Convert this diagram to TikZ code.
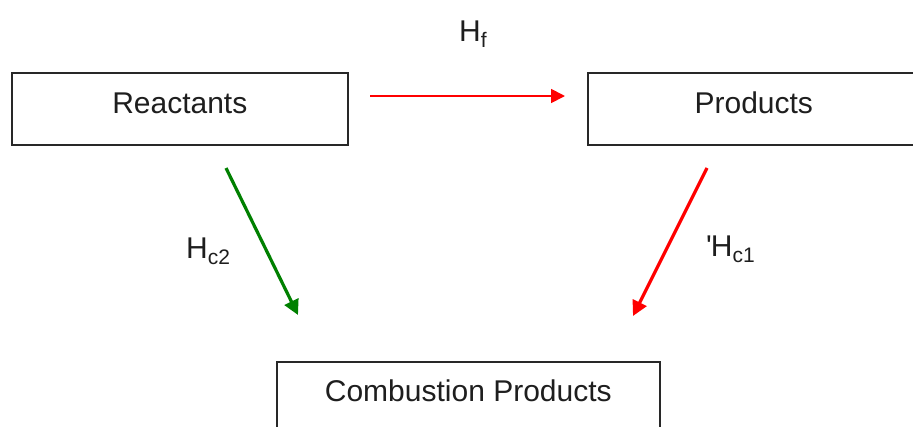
\documentclass[tikz,border=0pt]{standalone}
\usepackage{fontspec}
\setmainfont{Liberation Sans}
\usetikzlibrary{arrows.meta}
\definecolor{boxline}{RGB}{40,40,40}
\definecolor{txt}{RGB}{30,30,30}
\definecolor{arrgreen}{RGB}{0,128,0}
\tikzset{
  stepbox/.style={draw=boxline, line width=1.6pt, inner sep=0pt, anchor=north west,
    font=\fontsize{30}{36}\selectfont, text=txt, align=center},
  lbl/.style={inner sep=0pt, anchor=base west, text=txt, font=\fontsize{30}{36}\selectfont},
  redthin/.style={draw=red, line width=1.8pt, -{Triangle[length=14pt,width=14pt]}},
  redthick/.style={draw=red, line width=3.2pt, -{Triangle[length=15pt,width=15pt]}},
  greenthick/.style={draw=arrgreen, line width=3.2pt, -{Triangle[length=15pt,width=15pt]}},
}
\newcommand{\sbs}[1]{\raisebox{-0.22em}{\fontsize{21}{21}\selectfont #1}}
\begin{document}
\begin{tikzpicture}[x=1pt,y=-1pt]
\useasboundingbox (0,0) rectangle (913,426);
\node[stepbox, minimum width=336pt, text height=41pt, text depth=31pt] (react) at (11,72) {Reactants};
\node[stepbox, minimum width=332pt, text height=41pt, text depth=31pt] (prod) at (587,72) {Products};
\node[stepbox, minimum width=383pt, text height=40pt, text depth=39pt] (comb) at (276,361) {Combustion Products};
\node[lbl] (hf) at (459,41) {H\sbs{f}};
\node[lbl] (hc2) at (186,258) {H\sbs{c2}};
\node[lbl] (hc1) at (706,256) {\textquotesingle\kern-1pt H\sbs{c1}};
\coordinate (a1) at (370,96);
\coordinate (a2) at (565,96);
\coordinate (g1) at (226,168);
\coordinate (g2) at (298,315);
\coordinate (r1) at (707,168);
\coordinate (r2) at (633,316);
\draw[redthin] (a1) -- (a2);
\draw[greenthick] (g1) -- (g2);
\draw[redthick] (r1) -- (r2);
\end{tikzpicture}
\end{document}
